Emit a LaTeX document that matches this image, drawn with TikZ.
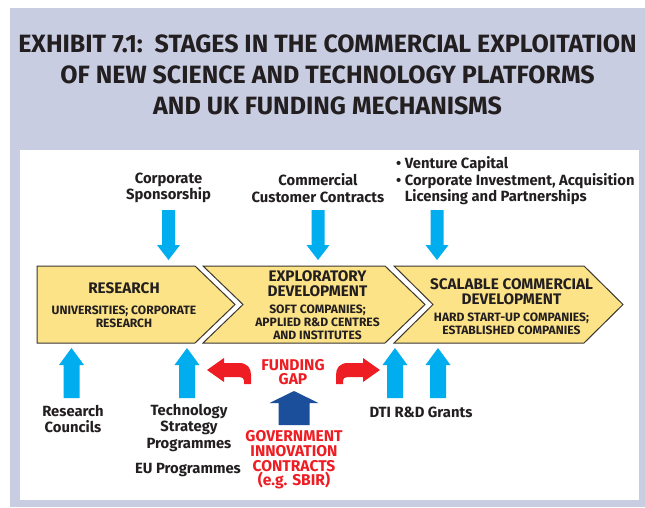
\documentclass[tikz,border=0pt]{standalone}
\usepackage{fontspec}
\setmainfont{Fira Sans}
\begin{document}
\definecolor{lilac}{HTML}{C8CDE2}
\definecolor{stagefill}{HTML}{FCE388}
\definecolor{stageline}{HTML}{3A3632}
\definecolor{ink}{HTML}{231F20}
\definecolor{cyanarrow}{HTML}{00AEEF}
\definecolor{navyarrow}{HTML}{1B4F9C}
\definecolor{gapred}{HTML}{EE1D23}
\begin{tikzpicture}[x=1pt,y=-1pt,
  title/.style={font=\bfseries\fontsize{25}{31}\selectfont, text=ink, align=center, inner sep=0},
  label/.style={font=\bfseries\fontsize{14.8}{16.5}\selectfont, text=ink, align=center, inner sep=0},
  redlabel/.style={font=\bfseries\fontsize{15.6}{14.7}\selectfont, text=gapred, align=center, inner sep=0},
  stagehead/.style={font=\bfseries\fontsize{15.3}{15}\selectfont, text=ink, align=center, inner sep=0},
  stagesub/.style={font=\bfseries\fontsize{12.1}{13}\selectfont, text=ink, align=center, inner sep=0},
  stage/.style={fill=stagefill, draw=stageline, line width=1pt, line join=miter},
  gaparrow/.style={fill=gapred, draw=none}]
% block arrow: #1 x centre, #2 tail y, #3 head-base y, #4 tip y, #5 half shaft, #6 half head, #7 colour
\newcommand\blockarrow[7]{%
  \fill[#7] (#1-#5,#2) -- (#1-#5,#3) -- (#1-#6,#3) -- (#1,#4) -- (#1+#6,#3) -- (#1+#5,#3) -- (#1+#5,#2) -- cycle;}
% curved arrow pointing left, its tail bending down
\newcommand\gapshape{%
  (207,370) -- (224,358) -- (224,363) -- (239,363)
  .. controls (247.5,363) and (251,368) .. (251,375) -- (251,384) -- (244,384) -- (244,380.5)
  .. controls (244,378.5) and (242.5,377) .. (239.5,377) -- (224,377) -- (224,382) -- cycle}

\useasboundingbox (0,0) rectangle (645,507);
\fill[white] (0,0) rectangle (645,507);
\fill[lilac] (10,8) rectangle (645,507);
\fill[white] (20,150) rectangle (639,500);

% heading
\node[title] (heading) at (327.5,75) {EXHIBIT 7.1:\ \ STAGES IN THE COMMERCIAL EXPLOITATION\\OF NEW SCIENCE AND TECHNOLOGY PLATFORMS\\AND UK FUNDING MECHANISMS};

% the three stages
\draw[stage] (37,266) -- (195,266) -- (235,304.5) -- (195,343) -- (37,343) -- cycle;
\draw[stage] (203,266) -- (385,266) -- (425,304.5) -- (385,343) -- (203,343) -- (243,304.5) -- cycle;
\draw[stage] (394,266) -- (584,266) -- (623,304.5) -- (584,343) -- (394,343) -- (433,304.5) -- cycle;

\node[stagehead] (research) at (124,288) {RESEARCH};
\node[stagesub] (researchsub) at (124,317) {UNIVERSITIES; CORPORATE\\RESEARCH};
\node[stagehead] (explor) at (317.5,283.5) {EXPLORATORY\\DEVELOPMENT};
\node[stagesub] (explorsub) at (317.5,322) {SOFT COMPANIES;\\APPLIED R\&D CENTRES\\AND INSTITUTES};
\node[stagehead] (scal) at (511.5,292) {SCALABLE COMMERCIAL\\DEVELOPMENT};
\node[stagesub] (scalsub) at (511.5,324) {HARD START-UP COMPANIES;\\ESTABLISHED COMPANIES};

% private funding sources above
\node[label] (sponsor) at (168.5,188) {Corporate\\Sponsorship};
\node[label] (customer) at (318,188) {Commercial\\Customer Contracts};
\node[label, align=left, anchor=west] (venture) at (396,181) {• Venture Capital\\• Corporate Investment, Acquisition\\\phantom{• }Licensing and Partnerships};

\blockarrow{168.5}{210}{245}{260}{6.5}{11.5}{cyanarrow}
\blockarrow{318}{210}{245}{260}{6.5}{11.5}{cyanarrow}
\blockarrow{437}{210}{245}{260}{6.5}{11.5}{cyanarrow}

% public funding sources below
\blockarrow{71.5}{398}{365}{348}{8}{12.5}{cyanarrow}
\blockarrow{187}{398}{365}{348}{8}{12.5}{cyanarrow}
\blockarrow{395}{398}{365}{348}{8}{12.5}{cyanarrow}
\blockarrow{438}{398}{365}{348}{8}{12.5}{cyanarrow}
\blockarrow{294}{425}{403}{391}{15.5}{24.5}{navyarrow}

\node[label] (councils) at (73,419) {Research\\Councils};
\node[label] (tsp) at (189,428) {Technology\\Strategy\\Programmes};
\node[label] (eu) at (188,470) {EU Programmes};
\node[label] (dti) at (421,412) {DTI R\&D Grants};
\node[redlabel] (gap) at (293,372) {FUNDING\\GAP};
\node[redlabel] (gov) at (294,460) {GOVERNMENT\\INNOVATION\\CONTRACTS\\(e.g. SBIR)};

% curved arrows either side of the gap
\fill[gaparrow] \gapshape;
\begin{scope}[xshift=587pt, xscale=-1]
\fill[gaparrow] \gapshape;
\end{scope}
\end{tikzpicture}
\end{document}
